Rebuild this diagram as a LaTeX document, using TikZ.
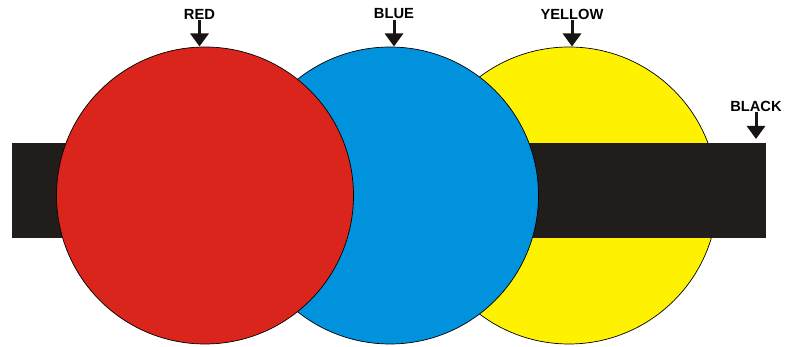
\documentclass[tikz,border=0pt]{standalone}
\usepackage{fontspec}
\setmainfont{Liberation Sans}
\definecolor{inkred}{RGB}{218,37,29}
\definecolor{inkblue}{RGB}{0,146,221}
\definecolor{inkyellow}{RGB}{255,242,0}
\definecolor{inkblack}{RGB}{33,29,27}
\usetikzlibrary{positioning,arrows.meta}

\begin{document}
\begin{tikzpicture}[x=1pt,y=-1pt,
    disc/.style={circle,draw=black,line width=0.7pt,minimum size=297pt,inner sep=0pt},
    inklabel/.style={font=\fontsize{14.7}{16}\selectfont\bfseries,inner sep=1pt},
    pointer/.style={line width=3pt,-{Triangle[width=18pt,length=13pt]},inkblack!70!black}]
    \useasboundingbox (0,0) rectangle (785,347);

    % discs, back to front
    \node[disc,fill=inkyellow] (yellow) at (569,195.5) {};
    \fill[inkblack] (12,143) rectangle (766,238);
    \coordinate (barend) at (756,143);
    \node[disc,fill=inkblue] (blue) at (390,195.5) {};
    \node[disc,fill=inkred] (red) at (205,195.5) {};

    % labels
    \node[inklabel] (lred) at (199.5,14) {RED};
    \node[inklabel] (lblue) at (394,14) {BLUE};
    \node[inklabel] (lyellow) at (572,14) {YELLOW};
    \node[inklabel] (lblack) at (756,106) {BLACK};

    \coordinate (tred) at (199.5,46.5);
    \coordinate (tblue) at (394,46.5);
    \coordinate (tyellow) at (572,46.5);
    \coordinate (tblack) at (756,139);

    \draw[pointer] (lred.south) -- (tred);
    \draw[pointer] (lblue.south) -- (tblue);
    \draw[pointer] (lyellow.south) -- (tyellow);
    \draw[pointer] (lblack.south) -- (tblack);
\end{tikzpicture}
\end{document}
